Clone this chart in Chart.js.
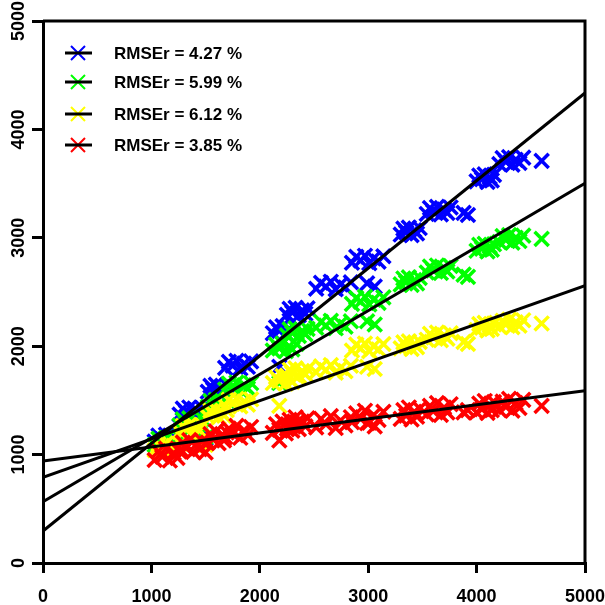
<!DOCTYPE html>
<html>
<head>
<meta charset="utf-8">
<script src="https://cdn.jsdelivr.net/npm/chart.js@4"></script>
<style>
html, body { margin: 0; padding: 0; background: #fff; }
#wrap { width: 605px; height: 605px; }
</style>
</head>
<body>
<div id="wrap"><canvas id="myChart"></canvas></div>
<script>
// shared x values (same inputs for every series)
const xVals = [
  1030, 1065, 1100, 1135, 1170, 1205, 1240, 1270,
  1260, 1290, 1320, 1350, 1385, 1415, 1445, 1470,
  1520, 1545, 1570, 1595, 1620, 1645, 1670, 1695,
  1680, 1715, 1750, 1785, 1820, 1855, 1890, 1920,
  2120, 2150, 2180, 2210, 2240, 2270, 2300, 2340,
  2250, 2275, 2300, 2330, 2360, 2390, 2420, 2440,
  2520, 2565, 2610, 2655, 2700, 2745, 2790, 2840,
  2850, 2890, 2930, 2970, 3010, 3050, 3095, 3140,
  3300, 3325, 3350, 3375, 3400, 3425, 3450, 3475,
  3540, 3570, 3600, 3635, 3670, 3700, 3730, 3760,
  4000, 4025, 4050, 4075, 4100, 4120, 4140, 4160,
  4210, 4240, 4270, 4300, 4330, 4360, 4395, 4430,
  1450, 1500, 2180, 2990, 3060, 3880, 3920, 4600
]
const blueY = [
  1120, 1175, 1140, 1185, 1115, 1160, 1130, 1180,
  1370, 1425, 1390, 1435, 1365, 1410, 1380, 1430,
  1580, 1635, 1600, 1645, 1575, 1620, 1590, 1640,
  1800, 1855, 1820, 1865, 1795, 1840, 1810, 1860,
  2120, 2175, 2140, 2185, 2115, 2160, 2130, 2180,
  2290, 2345, 2310, 2355, 2285, 2330, 2300, 2350,
  2530, 2585, 2550, 2595, 2525, 2570, 2540, 2590,
  2770, 2825, 2790, 2835, 2765, 2810, 2780, 2830,
  3030, 3085, 3050, 3095, 3025, 3070, 3040, 3090,
  3220, 3275, 3240, 3285, 3215, 3260, 3230, 3280,
  3520, 3575, 3540, 3585, 3515, 3560, 3530, 3580,
  3680, 3735, 3700, 3745, 3675, 3720, 3690, 3740,
  1170, 1150, 1810, 2580, 2550, 3230, 3210, 3710
]
const greenY = [
  1090, 1145, 1110, 1155, 1085, 1130, 1100, 1150,
  1270, 1325, 1290, 1335, 1265, 1310, 1280, 1330,
  1440, 1495, 1460, 1505, 1435, 1480, 1450, 1500,
  1600, 1655, 1620, 1665, 1595, 1640, 1610, 1660,
  1960, 2015, 1980, 2025, 1955, 2000, 1970, 2020,
  2100, 2155, 2120, 2165, 2095, 2140, 2110, 2160,
  2170, 2225, 2190, 2235, 2165, 2210, 2180, 2230,
  2390, 2445, 2410, 2455, 2385, 2430, 2400, 2450,
  2570, 2625, 2590, 2635, 2565, 2610, 2580, 2630,
  2680, 2735, 2700, 2745, 2675, 2720, 2690, 2740,
  2880, 2935, 2900, 2945, 2875, 2920, 2890, 2940,
  2960, 3015, 2980, 3025, 2955, 3000, 2970, 3020,
  1190, 1160, 1660, 2230, 2200, 2660, 2640, 2990
]
const yellowY = [
  1040, 1095, 1060, 1105, 1035, 1080, 1050, 1100,
  1210, 1265, 1230, 1275, 1205, 1250, 1220, 1270,
  1350, 1405, 1370, 1415, 1345, 1390, 1360, 1410,
  1450, 1505, 1470, 1515, 1445, 1490, 1460, 1510,
  1660, 1715, 1680, 1725, 1655, 1700, 1670, 1720,
  1730, 1785, 1750, 1795, 1725, 1770, 1740, 1790,
  1760, 1815, 1780, 1825, 1755, 1800, 1770, 1820,
  1960, 2015, 1980, 2025, 1955, 2000, 1970, 2020,
  1980, 2035, 2000, 2045, 1975, 2020, 1990, 2040,
  2060, 2115, 2080, 2125, 2055, 2100, 2070, 2120,
  2150, 2205, 2170, 2215, 2145, 2190, 2160, 2210,
  2180, 2235, 2200, 2245, 2175, 2220, 2190, 2240,
  1110, 1090, 1450, 1810, 1790, 2040, 2020, 2210
]
const redY = [
  950, 1030, 980, 1055, 945, 1015, 970, 1045,
  1030, 1110, 1060, 1135, 1025, 1095, 1050, 1125,
  1110, 1190, 1140, 1215, 1105, 1175, 1130, 1205,
  1160, 1240, 1190, 1265, 1155, 1225, 1180, 1255,
  1200, 1280, 1230, 1305, 1195, 1265, 1220, 1295,
  1240, 1320, 1270, 1345, 1235, 1305, 1260, 1335,
  1250, 1330, 1280, 1355, 1245, 1315, 1270, 1345,
  1300, 1380, 1330, 1405, 1295, 1365, 1320, 1395,
  1330, 1410, 1360, 1435, 1325, 1395, 1350, 1425,
  1370, 1450, 1400, 1475, 1365, 1435, 1390, 1465,
  1390, 1470, 1420, 1495, 1385, 1455, 1410, 1485,
  1410, 1490, 1440, 1515, 1405, 1475, 1430, 1505,
  1060, 1020, 1130, 1290, 1260, 1390, 1410, 1450
]
// fitted lines, value at x = 0 and at x = 5000
const fitX = [0, 5000]
const blueFit = [295, 4336]
const greenFit = [565, 3503]
const yellowFit = [790, 2558]
const redFit = [941, 1589]
const legendLabels = ['RMSEr = 4.27 %', 'RMSEr = 5.99 %', 'RMSEr = 6.12 %', 'RMSEr = 3.85 %']
const axisTicks = [0, 1000, 2000, 3000, 4000, 5000]

const colors = ['#0000ff', '#00ff00', '#ffff00', '#ff0000']
const FONT = '"Liberation Sans", Arial, sans-serif'

function pts(ys) {
    return xVals.map((x, i) => ({ x: x, y: ys[i] }))
}
function fit(v) {
    return fitX.map((x, i) => ({ x: x, y: v[i] }))
}
function scatterSet(ys, color, order) {
    return {
        type: 'scatter',
        data: pts(ys),
        pointStyle: 'crossRot',
        pointRadius: 10,
        pointBorderWidth: 3.5,
        borderColor: color,
        backgroundColor: color,
        order: order
    }
}
function lineSet(v) {
    return {
        type: 'line',
        data: fit(v),
        borderColor: '#000',
        borderWidth: 3,
        pointRadius: 0,
        fill: false,
        order: 0
    }
}

const boxAndLabels = {
    id: 'boxAndLabels',
    afterDraw(chart) {
        const c = chart.ctx
        const a = chart.chartArea
        c.save()
        c.strokeStyle = '#000'
        c.lineWidth = 3
        c.beginPath()
        c.moveTo(a.left, a.top)
        c.lineTo(a.right, a.top)
        c.lineTo(a.right, a.bottom)
        c.stroke()

        // y tick labels, rotated like the original
        const ys = chart.scales.y
        c.fillStyle = '#000'
        c.font = 'bold 18px ' + FONT
        c.textAlign = 'center'
        c.textBaseline = 'alphabetic'
        axisTicks.forEach((t) => {
            c.save()
            c.translate(23.5, ys.getPixelForValue(t))
            c.rotate(-Math.PI / 2)
            c.fillText(String(t), 0, 0)
            c.restore()
        })

        // legend
        const rowY = [53, 82, 114, 145]
        c.font = 'bold 17px ' + FONT
        c.textAlign = 'left'
        c.textBaseline = 'middle'
        legendLabels.forEach((lab, i) => {
            const y = rowY[i]
            c.strokeStyle = colors[i]
            c.lineWidth = 2
            c.beginPath()
            c.moveTo(71, y - 7); c.lineTo(85, y + 7)
            c.moveTo(71, y + 7); c.lineTo(85, y - 7)
            c.stroke()
            c.strokeStyle = '#000'
            c.lineWidth = 3
            c.beginPath()
            c.moveTo(65, y); c.lineTo(92, y)
            c.stroke()
            c.fillText(lab, 114, y + 1)
        })
        c.restore()
    }
}

const ctx = document.getElementById('myChart')
new Chart(ctx, {
    data: {
        datasets: [
            lineSet(blueFit), lineSet(greenFit), lineSet(yellowFit), lineSet(redFit),
            scatterSet(blueY, colors[0], 4),
            scatterSet(greenY, colors[1], 3),
            scatterSet(yellowY, colors[2], 2),
            scatterSet(redY, colors[3], 1)
        ]
    },
    options: {
        responsive: true,
        maintainAspectRatio: false,
        animation: false,
        layout: { padding: { top: 21, right: 20, left: 0, bottom: 0 } },
        scales: {
            x: {
                type: 'linear',
                min: 0,
                max: 5000,
                afterBuildTicks: (s) => { s.ticks = axisTicks.map((v) => ({ value: v })) },
                afterFit: (s) => { s.height = 42; s.paddingLeft = 0; s.paddingRight = 0 },
                ticks: {
                    autoSkip: false,
                    maxRotation: 0,
                    padding: 13,
                    color: '#000',
                    font: { family: FONT, size: 18, weight: 'bold' },
                    callback: (v) => String(v)
                },
                grid: { drawOnChartArea: false, drawTicks: true, tickLength: 10, color: '#000', lineWidth: 3 },
                border: { display: true, color: '#000', width: 3 }
            },
            y: {
                type: 'linear',
                min: 0,
                max: 5000,
                afterBuildTicks: (s) => { s.ticks = axisTicks.map((v) => ({ value: v })) },
                afterFit: (s) => { s.width = 43; s.paddingTop = 0; s.paddingBottom = 0 },
                ticks: { display: false },
                grid: { drawOnChartArea: false, drawTicks: true, tickLength: 11, color: '#000', lineWidth: 3 },
                border: { display: true, color: '#000', width: 3 }
            }
        },
        plugins: {
            legend: { display: false },
            tooltip: { enabled: false }
        }
    },
    plugins: [boxAndLabels]
})
</script>
</body>
</html>
